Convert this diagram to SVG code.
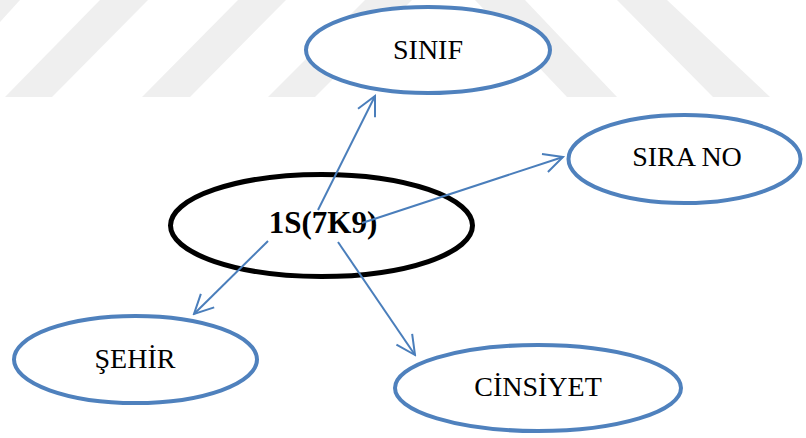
<svg xmlns="http://www.w3.org/2000/svg" width="806" height="438" viewBox="0 0 806 438">
  <style>
    .wm { fill: #efefef; }
    .node { fill: #ffffff; stroke: #4f81bd; stroke-width: 4; }
    .center { fill: #ffffff; stroke: #000000; stroke-width: 5; }
    .lbl { font-family: "Liberation Serif", "Times New Roman", serif; font-size: 28px; fill: #000000; text-anchor: middle; }
    .clbl { font-family: "Liberation Serif", "Times New Roman", serif; font-size: 31px; font-weight: bold; fill: #000000; text-anchor: middle; }
    .edge { stroke: #4a7ebb; stroke-width: 2; fill: none; marker-end: url(#arr); }
  </style>
  <defs>
    <marker id="arr" viewBox="-24 -12 26 24" refX="0" refY="0" markerWidth="26" markerHeight="24" markerUnits="userSpaceOnUse" orient="auto">
      <path d="M-19,-9.5 L0,0 L-19,9.5" fill="none" stroke="#4a7ebb" stroke-width="2"/>
    </marker>
  </defs>
  <rect width="806" height="438" fill="#ffffff"/>
  <g id="watermark">
    <polygon class="wm" points="0,0 20,0 0,22"/>
    <polygon class="wm" points="100,0 148,0 52,97 5,97"/>
    <polygon class="wm" points="238,0 286,0 190,97 142,97"/>
    <polygon class="wm" points="365,0 412,0 315,97 268,97"/>
    <polygon class="wm" points="475,0 525,0 617,97 567,97"/>
    <polygon class="wm" points="617,0 667,0 770,97 713,97"/>
  </g>
  <g id="node-sinif">
    <ellipse class="node" cx="428" cy="50" rx="122" ry="43"/>
    <text class="lbl" x="428" y="59">SINIF</text>
  </g>
  <g id="node-sirano">
    <ellipse class="node" cx="684.5" cy="159" rx="116" ry="44"/>
    <text class="lbl" x="687" y="166">SIRA NO</text>
  </g>
  <g id="node-sehir">
    <ellipse class="node" cx="135.5" cy="359.5" rx="121.5" ry="43.5"/>
    <text class="lbl" x="135" y="368">ŞEHİR</text>
  </g>
  <g id="node-cinsiyet">
    <ellipse class="node" cx="538" cy="388" rx="143" ry="43"/>
    <text class="lbl" x="538" y="396">CİNSİYET</text>
  </g>
  <g id="node-center">
    <ellipse class="center" cx="321.5" cy="225.5" rx="151" ry="51"/>
    <text class="clbl" x="323" y="233">1S(7K9)</text>
  </g>
  <g id="connectors">
    <line class="edge" x1="318" y1="210" x2="375" y2="96"/>
    <line class="edge" x1="362" y1="223" x2="563" y2="157"/>
    <line class="edge" x1="268" y1="241" x2="194" y2="314"/>
    <line class="edge" x1="338" y1="242" x2="415" y2="355"/>
  </g>
</svg>
